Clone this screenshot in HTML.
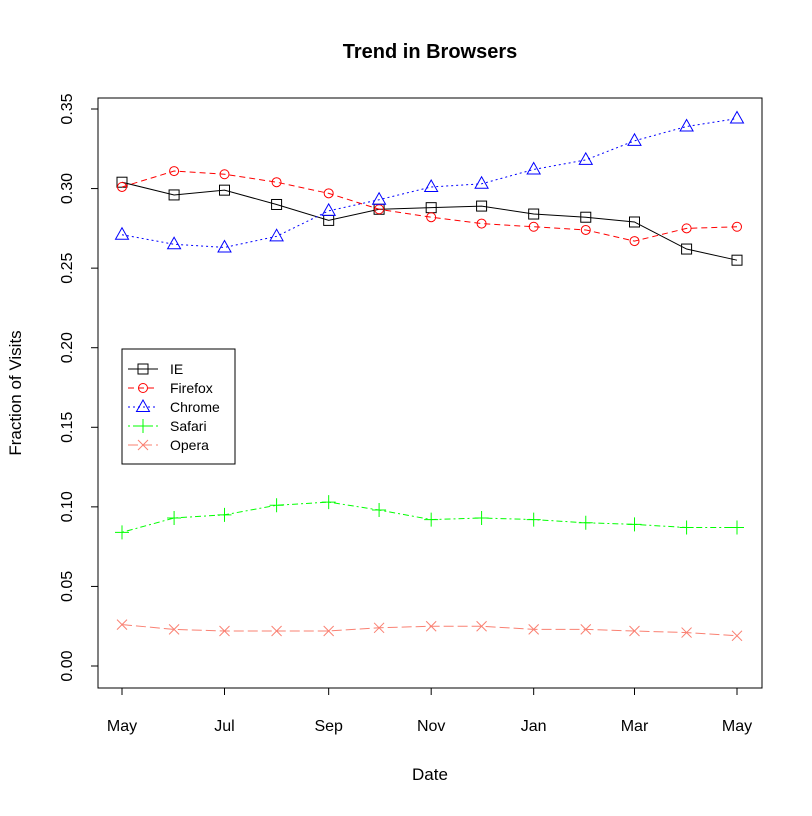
<!DOCTYPE html>
<html><head><meta charset="utf-8"><style>
body{margin:0;background:#fff}
text{font-family:"Liberation Sans",Arial,sans-serif}
</style></head><body>
<svg id="c" width="812" height="811" xmlns="http://www.w3.org/2000/svg">
<rect width="812" height="811" fill="#fff"/>
<text x="430" y="58" text-anchor="middle" font-size="20" font-weight="bold">Trend in Browsers</text>
<text x="430" y="780" text-anchor="middle" font-size="17">Date</text>
<text transform="translate(21,393) rotate(-90)" text-anchor="middle" font-size="17">Fraction of Visits</text>
<rect x="98" y="98" width="664" height="590" fill="none" stroke="#000"/>
<g id="axes"></g><g id="series"></g><g id="legend"></g>
</svg>
<script>
const days=[0,31,61,92,123,153,184,214,245,276,305,336,366];
const xTickDays=[0,61,123,184,245,305,366];
const xTickLabels=["May","Jul","Sep","Nov","Jan","Mar","May"];
const yTicks=[0,0.05,0.10,0.15,0.20,0.25,0.30,0.35];
const yTickLabels=["0.00","0.05","0.10","0.15","0.20","0.25","0.30","0.35"];
const seriesNames=["IE","Firefox","Chrome","Safari","Opera"];
const ie=[.304,.296,.299,.290,.280,.287,.288,.289,.284,.282,.279,.262,.255];
const firefox=[.301,.311,.309,.304,.297,.287,.282,.278,.276,.274,.267,.275,.276];
const chrome=[.271,.265,.263,.270,.286,.293,.301,.303,.312,.318,.330,.339,.344];
const safari=[.084,.093,.095,.101,.103,.098,.092,.093,.092,.090,.089,.087,.087];
const opera=[.026,.023,.022,.022,.022,.024,.025,.025,.023,.023,.022,.021,.019];
const NS="http://www.w3.org/2000/svg";
const X=d=>122+d*(615/366), Y=v=>666-v*(557/0.35);
function mk(t,a,p){const e=document.createElementNS(NS,t);for(const k in a)e.setAttribute(k,a[k]);p.appendChild(e);return e;}
const ax=document.getElementById('axes');
mk('line',{x1:98,x2:98,y1:Y(0),y2:Y(0.35),stroke:'#000'},ax);
yTicks.forEach((v,i)=>{mk('line',{x1:91,x2:98,y1:Y(v),y2:Y(v),stroke:'#000'},ax);
const t=mk('text',{transform:`translate(72,${Y(v)}) rotate(-90)`,'text-anchor':'middle','font-size':16},ax);t.textContent=yTickLabels[i];

});
xTickDays.forEach((d,i)=>{mk('line',{x1:X(d),x2:X(d),y1:688,y2:695,stroke:'#000'},ax);
const t=mk('text',{x:X(d),y:731,'text-anchor':'middle','font-size':16},ax);t.textContent=xTickLabels[i];

});
const styles=[{c:'#000',d:'',m:'sq'},{c:'#ff0000',d:'6,4',m:'ci'},{c:'#0000ff',d:'2,3',m:'tr'},{c:'#00ff00',d:'2,3,6,3',m:'pl'},{c:'#fa8072',d:'10,4',m:'x'}];
const data=[ie,firefox,chrome,safari,opera];
function marker(m,x,y,c,g){
 if(m=='sq')mk('rect',{x:x-5,y:y-5,width:10,height:10,fill:'none',stroke:c},g);
 else if(m=='ci')mk('circle',{cx:x,cy:y,r:4.5,fill:'none',stroke:c},g);
 else if(m=='tr')mk('polygon',{points:`${x},${y-7} ${x-6.5},${y+4.5} ${x+6.5},${y+4.5}`,fill:'none',stroke:c},g);
 else if(m=='pl')mk('path',{d:`M${x-7},${y}H${x+7}M${x},${y-7}V${y+7}`,stroke:c,fill:'none'},g);
 else mk('path',{d:`M${x-5},${y-5}L${x+5},${y+5}M${x-5},${y+5}L${x+5},${y-5}`,stroke:c,fill:'none'},g);
}
const sg=document.getElementById('series');
data.forEach((arr,si)=>{const s=styles[si];const g=mk('g',{},sg);


const pts=arr.map((v,i)=>[X(days[i]),Y(v)]);
mk('polyline',{points:pts.map(p=>p.join(',')).join(' '),fill:'none',stroke:s.c,'stroke-dasharray':s.d},g);
pts.forEach(p=>marker(s.m,p[0],p[1],s.c,g));});
const lg=document.getElementById('legend');


mk('rect',{x:122,y:349,width:113,height:115,fill:'#fff',stroke:'#000'},lg);
seriesNames.forEach((n,i)=>{const s=styles[i];const y=369+i*19;const g=mk('g',{},lg);


mk('line',{x1:128,x2:158,y1:y,y2:y,stroke:s.c,'stroke-dasharray':s.d},g);
marker(s.m,143,y,s.c,g);
const t=mk('text',{x:170,y:y+5,'font-size':14},g);t.textContent=n;});
</script>
</body></html>
